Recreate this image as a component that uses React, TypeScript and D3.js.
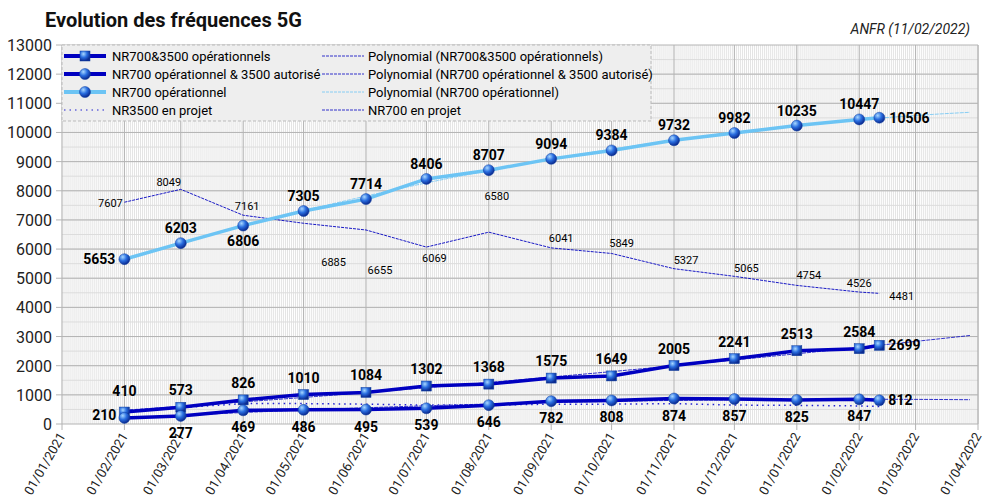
import React from "react";
import * as d3 from "d3";

const dateLabels = ["01/02/2021","01/03/2021","01/04/2021","01/05/2021","01/06/2021","01/07/2021","01/08/2021","01/09/2021","01/10/2021","01/11/2021","01/12/2021","01/01/2022","01/02/2022","11/02/2022"];
const nr7003500Ops = [410,573,826,1010,1084,1302,1368,1575,1649,2005,2241,2513,2584,2699];
const nr700Ops3500Aut = [210,277,469,486,495,539,646,782,808,874,857,825,847,812];
const nr700Ops = [5653,6203,6806,7305,7714,8406,8707,9094,9384,9732,9982,10235,10447,10506];
const nr700Projet = [7607,8049,7161,6885,6655,6069,6580,6041,5849,5327,5065,4754,4526,4481];
const nr3500Projet = [450,560,700,700,680,650,650,680,680,700,650,640,620,600];
const yTicks = d3.range(0, 13001, 1000);

const parse = d3.timeParse("%d/%m/%Y");
const dates = dateLabels.map(s => parse(s)!);
const W = 1003, H = 499;
const x = d3.scaleTime().domain([new Date(2021,0,1), new Date(2022,3,1)]).range([62, 978]);
const y = d3.scaleLinear().domain([0, 13000]).range([424, 45]);
const DARK = "#0000c0", LIGHT = "#6cc4f4", DOT = "#2020d0";

// label offsets for "NR700 en projet"
const projDx = [-14, -12, 4, 30, 14, 8, 8, 10, 10, 12, 12, 12, 0, 10];
const projDy = [5, -3, -5, 43, 44, 15, -32, -6, -6, -5, -4, -6, -5, 7];

function polyFit(vals: number[]) {
  const xs = dates.map(d => (d.getTime() - dates[0].getTime()) / 864e5 / 30);
  const S = (f: (i: number) => number) => d3.sum(xs.map((_, i) => f(i)));
  const n = xs.length;
  const a = [[n, S(i=>xs[i]), S(i=>xs[i]**2)],[S(i=>xs[i]), S(i=>xs[i]**2), S(i=>xs[i]**3)],[S(i=>xs[i]**2), S(i=>xs[i]**3), S(i=>xs[i]**4)]];
  const b = [S(i=>vals[i]), S(i=>xs[i]*vals[i]), S(i=>xs[i]**2*vals[i])];
  const M = a.map((r, i) => [...r, b[i]]);
  for (let i = 0; i < 3; i++) { for (let k = i+1; k < 3; k++) { const f = M[k][i]/M[i][i]; for (let j = i; j < 4; j++) M[k][j] -= f*M[i][j]; } }
  const c = [0,0,0];
  for (let i = 2; i >= 0; i--) { let s = M[i][3]; for (let j = i+1; j < 3; j++) s -= M[i][j]*c[j]; c[i] = s/M[i][i]; }
  const end = new Date(2022,3,1);
  const pts: [number, number][] = [];
  for (let t = dates[0].getTime(); t <= end.getTime(); t += 864e5*5) {
    const u = (t - dates[0].getTime())/864e5/30;
    pts.push([x(new Date(t)), y(c[0]+c[1]*u+c[2]*u*u)]);
  }
  return d3.line()(pts)!;
}

const line = (vals: number[]) => d3.line<number>().x((_, i) => x(dates[i])).y(v => y(v))(vals)!;

export default function App() {
  const days = d3.timeDay.range(new Date(2021,0,1), new Date(2022,3,1));
  const months = d3.timeMonth.range(new Date(2021,0,1), new Date(2022,3,2));
  const minorY = d3.range(500, 13000, 500);
  const font = "Roboto, 'Liberation Sans', sans-serif";
  const legend = [
    { t: "NR700&3500 opérationnels", c: DARK, w: 4, m: "sq" },
    { t: "NR700 opérationnel & 3500 autorisé", c: DARK, w: 4, m: "c" },
    { t: "NR700 opérationnel", c: LIGHT, w: 4, m: "c" },
    { t: "NR3500 en projet", c: DOT, w: 1.2, m: "dot" },
  ];
  const legend2 = [
    { t: "Polynomial (NR700&3500 opérationnels)", c: DARK },
    { t: "Polynomial (NR700 opérationnel & 3500 autorisé)", c: DARK },
    { t: "Polynomial (NR700 opérationnel)", c: LIGHT },
    { t: "NR700 en projet", c: DARK },
  ];
  const rowY = [56, 74, 92, 110];
  const marker = (cx: number, cy: number, kind: string, k: string) => kind === "sq"
    ? <rect key={k} x={cx-5} y={cy-5} width={10} height={10} fill="url(#gb)" stroke="#1040a0" strokeWidth={0.5} />
    : <circle key={k} cx={cx} cy={cy} r={5.5} fill="url(#gb)" stroke="#1040a0" strokeWidth={0.5} />;
  return (
    <svg width={W} height={H} style={{ position: "absolute", left: 0, top: 0, fontFamily: font }}>
      <defs>
        <radialGradient id="gb" cx="35%" cy="30%" r="70%">
          <stop offset="0" stopColor="#a8d8ff" /><stop offset="0.5" stopColor="#2a6ee0" /><stop offset="1" stopColor="#0a2a90" />
        </radialGradient>
      </defs>
      <rect width={W} height={H} fill="#fff" />
      <text x={45} y={27} fontSize={20} fontWeight="bold" fill="#111">Evolution des fréquences 5G</text>
      <text x={970} y={34} fontSize={14} fontStyle="italic" textAnchor="end" fill="#222">ANFR (11/02/2022)</text>
      {days.map((d, i) => <line key={"d"+i} x1={x(d)} x2={x(d)} y1={45} y2={424} stroke="#d8d8d8" strokeWidth={0.7} />)}
      {minorY.map(v => <line key={"m"+v} x1={62} x2={978} y1={y(v)} y2={y(v)} stroke="#dcdcdc" strokeWidth={1} />)}
      {yTicks.map(v => <line key={"g"+v} x1={56} x2={978} y1={y(v)} y2={y(v)} stroke="#b4b4b4" strokeWidth={1} />)}
      {months.map((d, i) => <line key={"v"+i} x1={x(d)} x2={x(d)} y1={45} y2={430} stroke="#b4b4b4" strokeWidth={1} />)}
      <line x1={978} x2={978} y1={45} y2={424} stroke="#b4b4b4" />
      {yTicks.map(v => <text key={"t"+v} x={52} y={y(v)+6} fontSize={16} textAnchor="end" fill="#222">{v}</text>)}
      {months.map((d, i) => <text key={"xl"+i} transform={`translate(${x(d)+4},${436}) rotate(-60)`} fontSize={13} textAnchor="end" fill="#222">{d3.timeFormat("%d/%m/%Y")(d)}</text>)}

      <path d={polyFit(nr700Ops)} fill="none" stroke={LIGHT} strokeWidth={0.8} strokeDasharray="4 1" />
      <path d={polyFit(nr7003500Ops)} fill="none" stroke={DARK} strokeWidth={0.8} strokeDasharray="4 1" />
      <path d={polyFit(nr700Ops3500Aut)} fill="none" stroke={DARK} strokeWidth={0.8} strokeDasharray="4 1" />
      <path d={line(nr700Projet)} fill="none" stroke={DARK} strokeWidth={0.9} strokeDasharray="3 1" />
      <path d={line(nr3500Projet)} fill="none" stroke={DOT} strokeWidth={1.5} strokeDasharray="1.5 4" />

      <path d={line(nr700Ops)} fill="none" stroke={LIGHT} strokeWidth={3.5} />
      <path d={line(nr7003500Ops)} fill="none" stroke={DARK} strokeWidth={3.5} />
      <path d={line(nr700Ops3500Aut)} fill="none" stroke={DARK} strokeWidth={3.5} />
      {nr700Ops.map((v, i) => marker(x(dates[i]), y(v), "c", "a"+i))}
      {nr7003500Ops.map((v, i) => marker(x(dates[i]), y(v), "sq", "b"+i))}
      {nr700Ops3500Aut.map((v, i) => marker(x(dates[i]), y(v), "c", "c"+i))}

      {nr700Ops.map((v, i) => { const last = i === nr700Ops.length-1; return <text key={"la"+i} x={x(dates[i]) + (last ? 10 : i===0 ? -9 : 0)} y={y(v) + (i === 0 ? 5 : last ? 5 : i === 2 ? 20 : -10)} fontSize={14} fontWeight="bold" textAnchor={last ? "start" : i === 0 ? "end" : "middle"}>{v}</text>; })}
      {nr7003500Ops.map((v, i) => { const last = i === nr7003500Ops.length-1; return <text key={"lb"+i} x={x(dates[i]) + (last ? 9 : 0)} y={y(v) + (last ? 5 : i === 0 ? -16 : -12)} fontSize={14} fontWeight="bold" textAnchor={last ? "start" : "middle"}>{v}</text>; })}
      {nr700Ops3500Aut.map((v, i) => { const last = i === nr700Ops3500Aut.length-1; return <text key={"lc"+i} x={x(dates[i]) + (last ? 9 : i === 0 ? -8 : 0)} y={y(v) + (last ? 5 : i === 0 ? 2 : 22)} fontSize={14} fontWeight="bold" textAnchor={last ? "start" : i === 0 ? "end" : "middle"}>{v}</text>; })}
      {nr700Projet.map((v, i) => { const last = i === nr700Projet.length-1; return <text key={"ld"+i} x={x(dates[i]) + projDx[i]} y={y(v) + projDy[i]} fontSize={11} textAnchor={last ? "start" : "middle"}>{v}</text>; })}

      <rect x={62} y={45} width={589} height={76} fill="#eeeeee" stroke="#bbb" strokeDasharray="3 2" />
      {legend.map((l, i) => { const ly = rowY[i]; return <g key={"lg"+i}>
        <line x1={64} x2={106} y1={ly} y2={ly} stroke={l.c} strokeWidth={l.w} strokeDasharray={l.m === "dot" ? "1.5 4" : undefined} />
        {l.m !== "dot" && marker(85, ly, l.m, "lm"+i)}
        <text x={112} y={ly+5} fontSize={13}>{l.t}</text></g>; })}
      {legend2.map((l, i) => { const ly = rowY[i]; return <g key={"lh"+i}>
        <line x1={322} x2={364} y1={ly} y2={ly} stroke={l.c} strokeWidth={0.8} strokeDasharray="3 1" />
        <text x={368} y={ly+5} fontSize={13}>{l.t}</text></g>; })}
    </svg>
  );
}
